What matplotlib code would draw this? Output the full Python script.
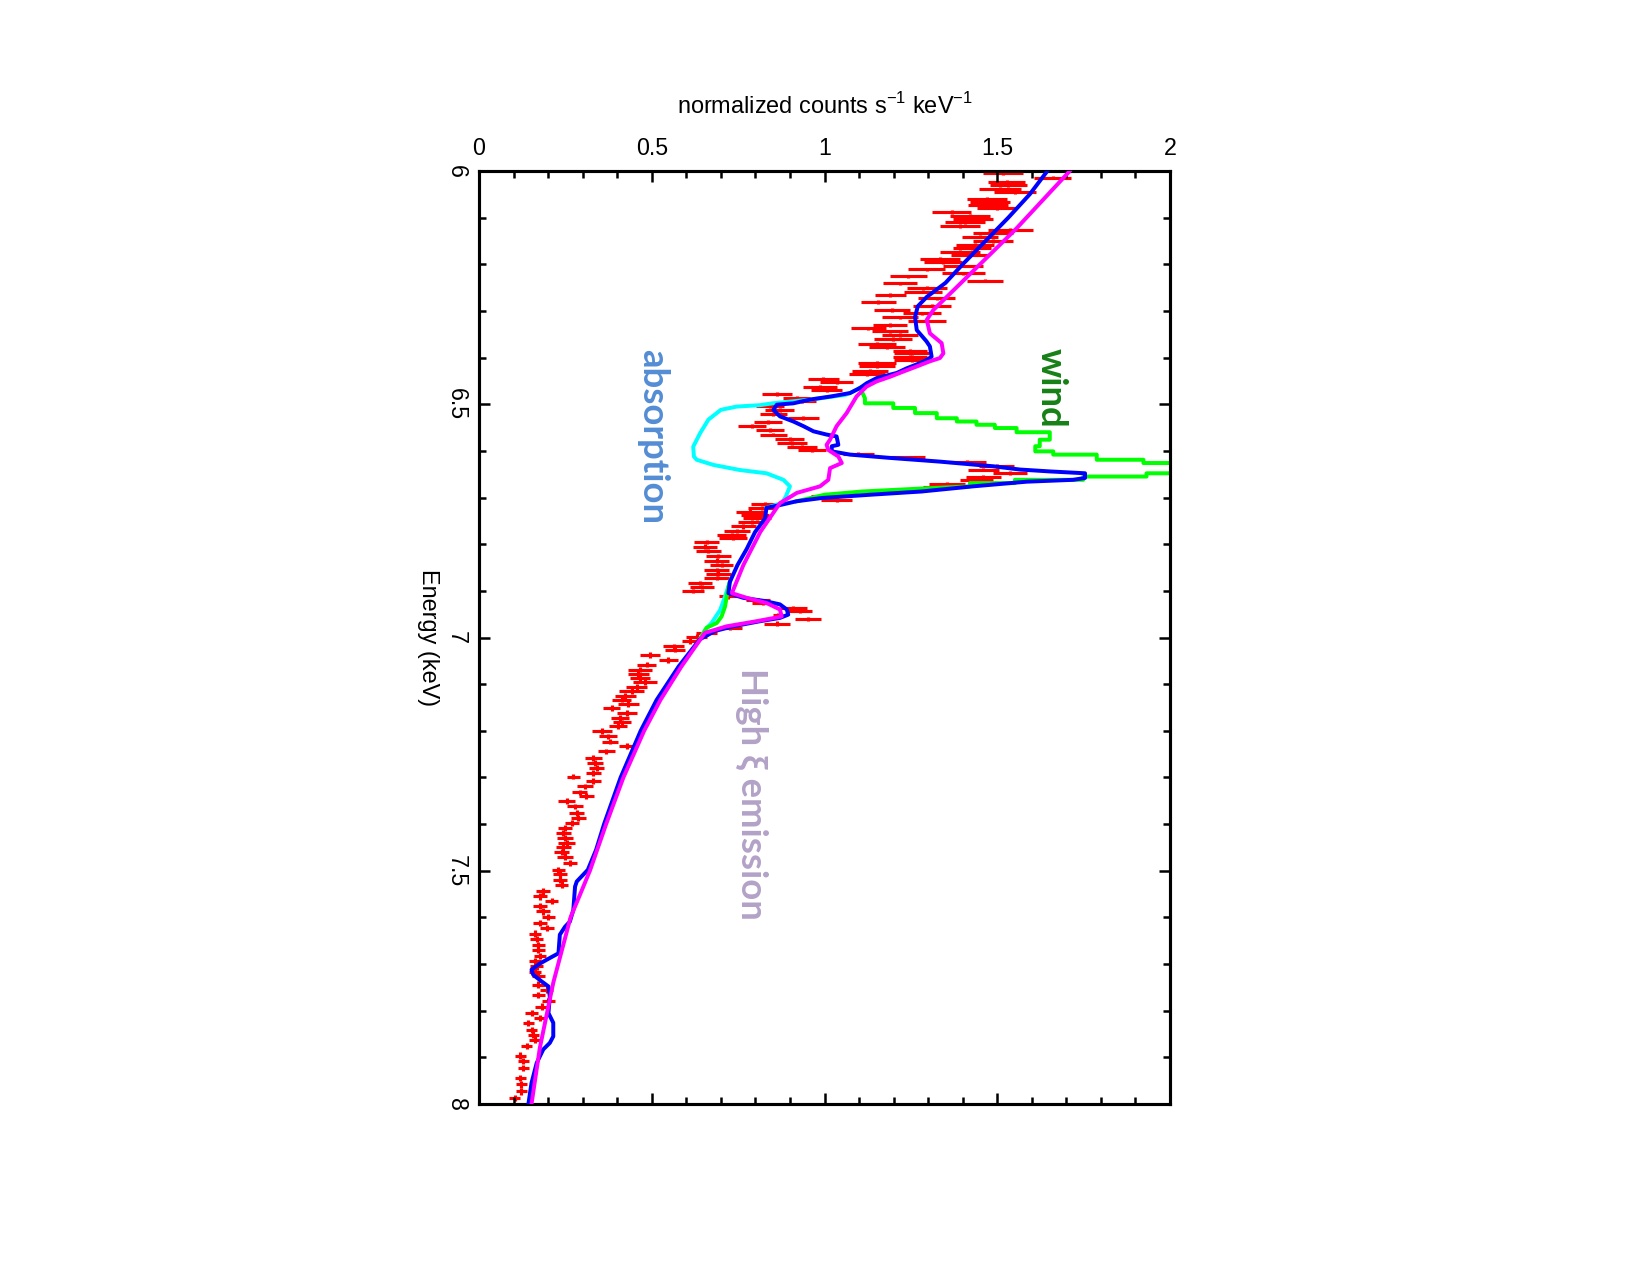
import matplotlib.pyplot as plt

# Espectro Fe K: datos (cruces rojas) y modelos, en la orientación girada del original
plt.rcParams['font.family'] = ['Liberation Sans', 'DejaVu Sans']
plt.rcParams['mathtext.fontset'] = 'custom'
plt.rcParams['mathtext.rm'] = 'Liberation Sans'

# ---- Datos ----
energy_keV = [
    6.005, 6.014, 6.023, 6.031, 6.038, 6.045, 6.059, 6.066, 6.073, 6.080,
    6.088, 6.096, 6.103, 6.110, 6.118, 6.126, 6.134, 6.141, 6.150, 6.158,
    6.166, 6.173, 6.180, 6.188, 6.196, 6.203, 6.211, 6.219, 6.226, 6.235,
    6.241, 6.250, 6.259, 6.266, 6.273, 6.281, 6.289, 6.298, 6.305, 6.314,
    6.321, 6.330, 6.337, 6.344,
    6.351, 6.360, 6.370, 6.378, 6.385, 6.391, 6.398, 6.405, 6.412, 6.419,
    6.428, 6.435, 6.446, 6.453, 6.462, 6.470, 6.478, 6.487, 6.494, 6.503,
    6.512, 6.521, 6.530, 6.538, 6.547, 6.556, 6.565, 6.574, 6.583, 6.591,
    6.599, 6.607, 6.614, 6.623, 6.632, 6.640, 6.647, 6.655, 6.662, 6.670,
    6.678, 6.686, 6.696, 6.706,
    6.713, 6.722, 6.730, 6.737, 6.744, 6.753, 6.762, 6.771, 6.780, 6.787,
    6.796, 6.805, 6.814, 6.826, 6.835, 6.844, 6.855, 6.863, 6.872, 6.883,
    6.892, 6.901, 6.912, 6.919, 6.926, 6.937, 6.944, 6.951, 6.960, 6.970,
    6.979,
    6.991, 6.998, 7.008, 7.019, 7.026, 7.037, 7.048, 7.058, 7.069, 7.078,
    7.087, 7.096, 7.106, 7.115, 7.125, 7.133, 7.142, 7.151, 7.162, 7.172,
    7.182, 7.190, 7.201, 7.212, 7.223, 7.233, 7.244, 7.258, 7.269, 7.280,
    7.290, 7.298, 7.308, 7.319, 7.332, 7.340, 7.351, 7.362, 7.376, 7.387,
    7.397, 7.408,
    7.419, 7.430, 7.440, 7.450, 7.460, 7.470, 7.483, 7.498, 7.508, 7.519,
    7.530, 7.544, 7.555, 7.565, 7.576, 7.587, 7.599, 7.612, 7.623, 7.635,
    7.646, 7.659, 7.669, 7.683, 7.694, 7.705, 7.716, 7.726, 7.744, 7.755,
    7.766, 7.780, 7.791, 7.805, 7.816, 7.826, 7.841, 7.851, 7.862, 7.876,
    7.896, 7.908, 7.923, 7.944, 7.958, 7.973, 7.987,
]
counts = [
    1.517, 1.660, 1.527, 1.532, 1.508, 1.551, 1.469, 1.479, 1.474, 1.498,
    1.368, 1.421, 1.431, 1.407, 1.392, 1.537, 1.489, 1.450, 1.489, 1.436,
    1.426, 1.392, 1.421, 1.334, 1.344, 1.402, 1.296, 1.402, 1.243, 1.464,
    1.219, 1.296, 1.286, 1.190, 1.325, 1.156, 1.310, 1.194, 1.281, 1.219,
    1.296, 1.190, 1.127, 1.190,
    1.218, 1.199, 1.151, 1.180, 1.247, 1.252, 1.247, 1.252, 1.151, 1.151,
    1.132, 1.122, 0.997, 1.035, 0.987, 1.006, 0.862, 0.919, 0.934, 0.842,
    0.871, 0.852, 0.939, 0.837, 0.790, 0.842, 0.852, 0.900, 0.905, 0.935,
    0.963, 1.098, 1.242, 1.411, 1.498, 1.460, 1.537, 1.460, 1.440, 1.354,
    1.335, 1.238, 1.006, 1.035,
    0.828, 0.818, 0.784, 0.799, 0.804, 0.789, 0.765, 0.746, 0.731, 0.736,
    0.659, 0.654, 0.664, 0.693, 0.688, 0.702, 0.688, 0.693, 0.688, 0.640,
    0.645, 0.620, 0.722, 0.808, 0.823, 0.910, 0.929, 0.866, 0.953, 0.862,
    0.726,
    0.659, 0.630, 0.611, 0.563, 0.567, 0.495, 0.548, 0.485, 0.466, 0.461,
    0.466, 0.481, 0.456, 0.442, 0.423, 0.413, 0.432, 0.384, 0.427, 0.408,
    0.413, 0.403, 0.355, 0.374, 0.379, 0.427, 0.369, 0.331, 0.336, 0.341,
    0.331, 0.273, 0.331, 0.307, 0.292, 0.311, 0.254, 0.278, 0.283, 0.287,
    0.268, 0.249,
    0.244, 0.249, 0.254, 0.244, 0.239, 0.249, 0.263, 0.230, 0.234, 0.234,
    0.239, 0.186, 0.176, 0.210, 0.176, 0.186, 0.201, 0.176, 0.196, 0.162,
    0.167, 0.172, 0.172, 0.176, 0.162, 0.167, 0.162, 0.172, 0.172, 0.196,
    0.172, 0.201, 0.181, 0.152, 0.176, 0.143, 0.152, 0.157, 0.162, 0.138,
    0.119, 0.128, 0.128, 0.119, 0.123, 0.123, 0.104,
]
counts_err = [
    0.058, 0.053, 0.053, 0.053, 0.060, 0.060, 0.058, 0.058, 0.058, 0.058,
    0.056, 0.058, 0.058, 0.058, 0.058, 0.065, 0.058, 0.052, 0.058, 0.055,
    0.055, 0.058, 0.055, 0.058, 0.055, 0.058, 0.053, 0.063, 0.053, 0.053,
    0.050, 0.058, 0.055, 0.045, 0.053, 0.050, 0.055, 0.052, 0.055, 0.052,
    0.055, 0.050, 0.050, 0.052,
    0.053, 0.055, 0.055, 0.052, 0.050, 0.050, 0.050, 0.050, 0.055, 0.052,
    0.053, 0.052, 0.045, 0.048, 0.048, 0.046, 0.043, 0.040, 0.040, 0.040,
    0.042, 0.040, 0.046, 0.040, 0.040, 0.040, 0.040, 0.042, 0.043, 0.043,
    0.040, 0.045, 0.050, 0.055, 0.050, 0.045, 0.050, 0.050, 0.048, 0.052,
    0.050, 0.048, 0.045, 0.045,
    0.040, 0.040, 0.040, 0.040, 0.040, 0.038, 0.036, 0.038, 0.043, 0.040,
    0.036, 0.036, 0.036, 0.036, 0.036, 0.033, 0.036, 0.036, 0.036, 0.034,
    0.034, 0.032, 0.028, 0.034, 0.034, 0.040, 0.036, 0.015, 0.038, 0.038,
    0.034,
    0.030, 0.030, 0.024, 0.031, 0.028, 0.028, 0.027, 0.028, 0.034, 0.030,
    0.030, 0.034, 0.030, 0.036, 0.030, 0.028, 0.030, 0.024, 0.029, 0.026,
    0.026, 0.026, 0.029, 0.026, 0.024, 0.022, 0.026, 0.024, 0.022, 0.022,
    0.022, 0.019, 0.022, 0.022, 0.022, 0.022, 0.024, 0.022, 0.022, 0.022,
    0.020, 0.020,
    0.022, 0.022, 0.024, 0.022, 0.022, 0.022, 0.020, 0.020, 0.020, 0.020,
    0.020, 0.020, 0.020, 0.020, 0.020, 0.020, 0.020, 0.020, 0.020, 0.018,
    0.018, 0.018, 0.018, 0.018, 0.018, 0.018, 0.018, 0.018, 0.018, 0.018,
    0.018, 0.018, 0.018, 0.018, 0.018, 0.016, 0.016, 0.016, 0.016, 0.016,
    0.016, 0.016, 0.016, 0.016, 0.016, 0.016, 0.016,
]
energy_halfwidth = (
    [0.0035] * 44 + [0.004] * 44 + [0.0045] * 31 + [0.006] * 42 + [0.007] * 47
)

# modelo total (azul)
blue_E = [6.000, 6.050, 6.100, 6.150, 6.200, 6.240, 6.270, 6.290, 6.313, 6.341,
          6.365, 6.376, 6.398, 6.405, 6.412, 6.423, 6.433, 6.444, 6.455, 6.465,
          6.476, 6.483, 6.490, 6.498, 6.501, 6.512, 6.526, 6.537, 6.547, 6.558,
          6.565, 6.569, 6.587, 6.590, 6.601, 6.608, 6.615, 6.623, 6.633, 6.640,
          6.644, 6.648, 6.658, 6.662, 6.666, 6.676, 6.687, 6.694, 6.701, 6.708,
          6.717, 6.722, 6.745, 6.774, 6.810, 6.845, 6.881, 6.905, 6.915, 6.922,
          6.929, 6.940, 6.951, 6.958, 6.965, 6.976, 6.986, 7.004, 7.062, 7.134,
          7.200, 7.300, 7.400, 7.455, 7.498, 7.523, 7.534, 7.584, 7.609, 7.620,
          7.637, 7.677, 7.687, 7.699, 7.712, 7.723, 7.737, 7.748, 7.769, 7.805,
          7.826, 7.855, 7.869, 7.883, 7.912, 7.955, 8.000]
blue_c = [1.645, 1.594, 1.532, 1.466, 1.400, 1.350, 1.296, 1.270, 1.262, 1.267,
          1.295, 1.305, 1.310, 1.296, 1.276, 1.238, 1.209, 1.151, 1.122, 1.103,
          1.074, 1.021, 0.958, 0.910, 0.862, 0.852, 0.871, 0.910, 0.939, 0.968,
          1.006, 1.035, 1.040, 1.021, 1.021, 1.074, 1.189, 1.334, 1.488, 1.566,
          1.652, 1.754, 1.754, 1.720, 1.585, 1.430, 1.281, 1.132, 0.992, 0.919,
          0.866, 0.832, 0.828, 0.799, 0.775, 0.748, 0.726, 0.722, 0.765, 0.828,
          0.871, 0.891, 0.895, 0.871, 0.814, 0.736, 0.683, 0.639, 0.578, 0.514,
          0.468, 0.410, 0.362, 0.339, 0.315, 0.283, 0.278, 0.273, 0.263, 0.249,
          0.234, 0.230, 0.205, 0.176, 0.152, 0.157, 0.181, 0.201, 0.205, 0.201,
          0.215, 0.215, 0.205, 0.186, 0.167, 0.152, 0.143]

# emisión de alto xi (magenta)
magenta_E = [6.000, 6.126, 6.240, 6.298, 6.319, 6.348, 6.369, 6.391, 6.401, 6.408,
             6.419, 6.430, 6.441, 6.451, 6.462, 6.483, 6.519, 6.547, 6.576, 6.587,
             6.598, 6.612, 6.626, 6.637, 6.662, 6.676, 6.690, 6.712, 6.774, 6.845,
             6.905, 6.915, 6.926, 6.940, 6.955, 6.965, 6.976, 6.990, 7.062, 7.134,
             7.200, 7.300, 7.400, 7.500, 7.600, 7.740, 7.880, 8.000]
magenta_c = [1.710, 1.552, 1.395, 1.315, 1.296, 1.305, 1.339, 1.344, 1.334, 1.305,
             1.267, 1.228, 1.190, 1.151, 1.122, 1.093, 1.064, 1.035, 1.016, 1.006,
             1.011, 1.040, 1.050, 1.016, 1.011, 0.987, 0.920, 0.871, 0.814, 0.765,
             0.732, 0.775, 0.832, 0.871, 0.876, 0.804, 0.717, 0.654, 0.586, 0.525,
             0.478, 0.418, 0.368, 0.321, 0.265, 0.215, 0.176, 0.152]

# viento (verde)
green_E = [6.465, 6.487, 6.498, 6.498, 6.508, 6.508, 6.519, 6.519, 6.530, 6.530,
           6.537, 6.537, 6.544, 6.544, 6.551, 6.551, 6.560, 6.560, 6.576, 6.576,
           6.590, 6.590, 6.601, 6.601, 6.608, 6.608, 6.619, 6.619, 6.626, 6.626,
           6.648, 6.648, 6.655, 6.655, 6.662, 6.662, 6.669, 6.669, 6.676, 6.680,
           6.687, 6.694, 6.701, 6.708]
green_c = [1.103, 1.117, 1.117, 1.199, 1.199, 1.262, 1.262, 1.325, 1.325, 1.383,
           1.383, 1.440, 1.440, 1.493, 1.493, 1.556, 1.556, 1.652, 1.652, 1.623,
           1.623, 1.610, 1.610, 1.662, 1.662, 1.788, 1.788, 1.923, 1.923, 2.050,
           2.050, 1.932, 1.932, 1.749, 1.749, 1.551, 1.551, 1.421, 1.421, 1.300,
           1.110, 1.000, 0.960, 0.919]
green2_E = [6.881, 6.891, 6.934, 6.955, 6.969, 6.979, 6.990, 7.004]
green2_c = [0.726, 0.722, 0.712, 0.702, 0.688, 0.659, 0.650, 0.639]

# absorción (cian)
cyan_E = [6.465, 6.476, 6.480, 6.490, 6.498, 6.502, 6.505, 6.512, 6.519, 6.533,
          6.562, 6.591, 6.612, 6.619, 6.630, 6.641, 6.648, 6.662, 6.676, 6.698,
          6.712, 6.722]
cyan_c = [1.103, 1.074, 1.060, 0.960, 0.850, 0.813, 0.746, 0.700, 0.688, 0.664,
          0.640, 0.620, 0.622, 0.630, 0.678, 0.755, 0.832, 0.881, 0.900, 0.888,
          0.876, 0.832]
cyan2_E = [6.881, 6.912, 6.941, 6.969, 6.983, 7.004]
cyan2_c = [0.726, 0.712, 0.698, 0.673, 0.655, 0.639]

count_ticks = [0, 0.5, 1, 1.5, 2]
count_labels = ['0', '0.5', '1', '1.5', '2']
energy_ticks = [6, 6.5, 7, 7.5, 8]
energy_labels = ['6', '6.5', '7', '7.5', '8']

# ---- Figura ----
fig = plt.figure(figsize=(11, 8.5), dpi=150)
ax = fig.add_axes([0.2903, 0.1341, 0.4188, 0.7318])

ax.errorbar(counts, energy_keV, xerr=counts_err, yerr=energy_halfwidth,
            fmt='none', ecolor='#ff0000', elinewidth=1.5, zorder=1)

lw = 1.9
ax.plot(cyan_c, cyan_E, color='#00ffff', lw=lw, zorder=2)
ax.plot(cyan2_c, cyan2_E, color='#00ffff', lw=lw, zorder=2)
ax.plot(green_c, green_E, color='#00ff00', lw=lw, zorder=2)
ax.plot(green2_c, green2_E, color='#00ff00', lw=lw, zorder=2)
ax.plot(blue_c, blue_E, color='#0000ff', lw=lw, zorder=3)
ax.plot(magenta_c, magenta_E, color='#ff00ff', lw=lw, zorder=4)

ax.set_xlim(0, 2)
ax.set_ylim(8, 6)

for s in ax.spines.values():
    s.set_linewidth(1.5)

ax.xaxis.tick_top()
ax.xaxis.set_label_position('top')
ax.set_xticks(count_ticks)
ax.set_xticklabels(count_labels)
ax.set_xticks([i / 10 for i in range(21)], minor=True)
ax.set_yticks(energy_ticks)
ax.set_yticklabels(energy_labels, rotation=-90, va='center')
ax.set_yticks([6 + i / 10 for i in range(21)], minor=True)

ax.tick_params(which='both', direction='in', top=True, bottom=True,
               left=True, right=True, labelsize=11.2, width=1.2)
ax.tick_params(which='major', length=5.5, pad=5.5)
ax.tick_params(which='minor', length=3.2)

ax.set_xlabel(r'normalized counts s$^{-1}$ keV$^{-1}$', fontsize=11.3, labelpad=11)
ax.set_ylabel('Energy (keV)', fontsize=11.3, rotation=-90, va='top', labelpad=2.5)

# etiquetas de componentes
lab_font = ['Lato', 'DejaVu Sans']
ax.text(0.502, 6.57, 'absorption', color='#548dd4', fontsize=17.5,
        fontweight='bold', family=lab_font, rotation=-90, ha='center', va='center')
ax.text(1.655, 6.465, 'wind', color='#168016', fontsize=17.5,
        fontweight='bold', family=lab_font, rotation=-90, ha='center', va='center')
ax.text(0.79, 7.335, 'High ξ emission', color='#b2a2c7', fontsize=17.5,
        fontweight='bold', family=lab_font, rotation=-90, ha='center', va='center')

fig.savefig('out.png', dpi=150)
